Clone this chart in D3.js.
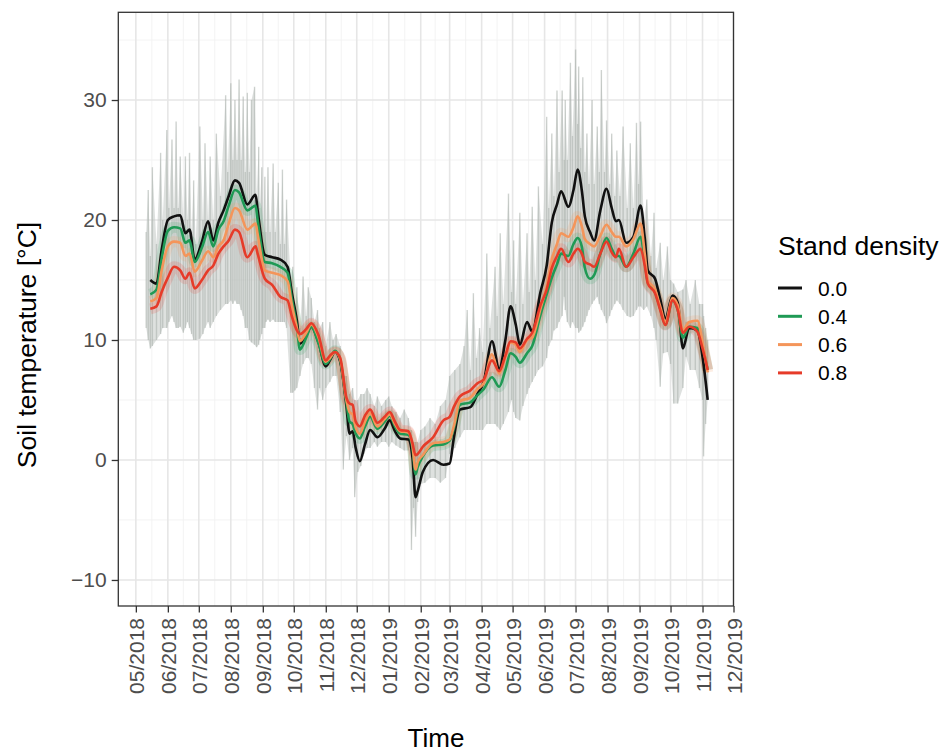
<!DOCTYPE html>
<html><head><meta charset="utf-8">
<script src="https://cdn.jsdelivr.net/npm/d3@7"></script>
<style>body{margin:0;background:#fff;} svg{display:block;font-family:"Liberation Sans",Arial,sans-serif;}</style>
</head><body><svg id="chart" width="941" height="756"></svg>
<script>
// ---- data ----
const seriesNames = ["0.0", "0.4", "0.6", "0.8"];
const seriesColors = ["#111111", "#1f9a55", "#f4955a", "#e63b29"];
const dates = ["2018-05-15","2018-05-21","2018-05-26","2018-06-01","2018-06-07","2018-06-13","2018-06-18","2018-06-22","2018-06-27","2018-07-04","2018-07-10","2018-07-15","2018-07-20","2018-07-25","2018-07-30","2018-08-05","2018-08-09","2018-08-17","2018-08-25","2018-08-27","2018-09-03","2018-09-10","2018-09-18","2018-09-25","2018-09-29","2018-10-04","2018-10-07","2018-10-13","2018-10-18","2018-10-25","2018-11-01","2018-11-05","2018-11-10","2018-11-15","2018-11-21","2018-11-24","2018-11-27","2018-11-30","2018-12-04","2018-12-09","2018-12-14","2018-12-21","2018-12-28","2019-01-02","2019-01-07","2019-01-12","2019-01-20","2019-01-24","2019-01-27","2019-01-29","2019-02-03","2019-02-13","2019-02-23","2019-03-01","2019-03-05","2019-03-11","2019-03-21","2019-03-28","2019-04-03","2019-04-11","2019-04-18","2019-04-24","2019-04-29","2019-05-04","2019-05-08","2019-05-15","2019-05-20","2019-05-28","2019-06-03","2019-06-08","2019-06-13","2019-06-17","2019-06-24","2019-06-29","2019-07-03","2019-07-07","2019-07-10","2019-07-15","2019-07-19","2019-07-25","2019-07-31","2019-08-05","2019-08-09","2019-08-12","2019-08-19","2019-08-26","2019-09-02","2019-09-06","2019-09-09","2019-09-16","2019-09-21","2019-09-26","2019-10-03","2019-10-08","2019-10-13","2019-10-19","2019-10-27","2019-11-01","2019-11-06"];
const density00 = [15.0,14.7,17.5,20.0,20.3,20.4,18.9,19.2,16.7,18.2,19.9,18.3,19.8,20.8,22.0,23.3,23.1,21.3,22.1,20.8,17.1,16.9,16.7,16.1,14.0,11.6,9.7,10.4,11.1,9.8,7.8,8.3,9.0,8.2,4.5,2.2,2.4,1.0,-0.1,1.3,2.5,1.9,2.6,3.3,2.4,1.8,1.7,0.2,-3.1,-2.6,-1.0,0.0,-0.4,-0.3,1.8,4.2,4.4,5.5,6.5,9.9,7.6,10.0,12.8,11.3,9.6,11.5,10.7,14.0,16.2,19.8,21.3,22.4,21.1,22.5,24.2,22.5,20.3,19.0,18.3,20.8,22.6,21.0,19.9,20.0,18.1,18.6,21.2,18.5,15.8,15.1,13.4,11.8,13.7,13.1,9.3,11.0,10.8,8.6,5.0];
const density04 = [13.8,14.2,16.8,19.1,19.4,19.3,18.1,18.3,16.5,17.7,19.0,17.8,19.2,19.9,21.2,22.5,22.3,20.8,21.2,20.0,16.5,16.4,16.1,15.6,13.5,11.1,9.2,10.2,11.1,9.7,8.0,8.4,9.1,8.3,4.8,3.2,3.0,2.2,1.8,2.8,3.6,2.6,3.2,3.7,2.8,2.2,2.1,1.0,-1.2,-0.6,0.3,1.2,1.3,1.6,2.6,4.6,4.8,5.4,5.9,6.9,6.1,7.5,8.9,8.6,8.1,8.9,9.5,12.1,13.8,15.2,16.3,17.2,17.0,18.0,18.5,17.8,16.0,15.1,15.4,17.2,18.5,17.6,17.0,17.0,16.1,17.2,18.6,16.5,14.8,14.0,12.6,11.3,13.3,12.5,10.2,11.1,11.0,9.5,7.5];
const density06 = [13.2,13.5,15.8,17.8,18.2,18.1,17.0,17.2,15.7,16.6,17.4,16.9,17.8,18.3,19.7,21.0,20.8,19.2,19.7,18.8,15.8,15.6,15.4,14.9,13.0,11.0,9.9,10.6,11.3,10.2,8.2,8.5,9.0,8.4,5.0,4.0,3.8,2.7,2.2,3.2,3.9,2.8,3.4,3.8,3.0,2.4,2.3,1.2,-0.8,-0.2,0.4,1.4,1.5,1.7,2.8,4.9,5.2,5.9,6.4,8.8,7.2,8.6,9.8,9.6,9.0,10.0,10.2,12.6,14.5,16.7,18.0,18.9,18.6,19.4,20.3,19.5,18.4,18.0,17.8,18.7,19.6,19.0,18.6,18.6,17.8,18.4,19.7,17.2,15.0,14.2,12.8,11.5,13.5,12.9,10.8,11.5,11.6,9.8,7.3];
const density08 = [12.6,12.8,14.0,15.2,16.1,15.8,15.1,15.6,14.3,15.0,15.8,16.2,17.2,17.8,18.3,19.2,19.0,16.9,17.8,17.2,15.1,14.6,13.6,13.3,12.0,10.8,10.5,10.9,11.4,10.4,8.3,8.7,9.0,8.5,5.2,4.7,4.6,3.2,2.8,3.7,4.2,3.1,3.6,4.0,3.2,2.5,2.4,1.4,0.4,0.5,1.1,1.9,3.3,3.6,4.4,5.3,5.8,6.4,6.7,8.3,7.4,8.7,9.9,9.8,9.3,10.1,10.6,12.9,14.2,16.0,17.0,17.6,16.5,17.2,17.6,17.2,16.5,16.3,16.1,17.2,18.2,17.3,16.9,17.6,16.1,16.9,17.6,16.2,14.7,13.9,12.5,11.25,13.3,12.5,10.6,11.1,10.7,9.3,7.5];
// envelope of the raw (hourly) readings behind the smoothed lines
const rawDates = ["2018-05-11","2018-05-13","2018-05-15","2018-05-17","2018-05-21","2018-05-25","2018-05-27","2018-05-31","2018-06-02","2018-06-05","2018-06-07","2018-06-09","2018-06-11","2018-06-13","2018-06-16","2018-06-18","2018-06-20","2018-06-22","2018-06-24","2018-06-26","2018-06-28","2018-07-02","2018-07-05","2018-07-07","2018-07-10","2018-07-12","2018-07-15","2018-07-18","2018-07-22","2018-07-27","2018-07-29","2018-08-01","2018-08-03","2018-08-05","2018-08-07","2018-08-09","2018-08-11","2018-08-13","2018-08-15","2018-08-17","2018-08-19","2018-08-21","2018-08-24","2018-08-26","2018-08-28","2018-08-29","2018-08-31","2018-09-01","2018-09-03","2018-09-04","2018-09-06","2018-09-08","2018-09-11","2018-09-13","2018-09-16","2018-09-18","2018-09-20","2018-09-22","2018-09-24","2018-09-28","2018-09-30","2018-10-02","2018-10-04","2018-10-07","2018-10-10","2018-10-13","2018-10-15","2018-10-18","2018-10-21","2018-10-24","2018-10-26","2018-10-29","2018-11-01","2018-11-05","2018-11-08","2018-11-11","2018-11-15","2018-11-18","2018-11-21","2018-11-24","2018-11-27","2018-11-29","2018-12-02","2018-12-05","2018-12-08","2018-12-11","2018-12-14","2018-12-18","2018-12-21","2018-12-25","2018-12-29","2019-01-01","2019-01-04","2019-01-08","2019-01-12","2019-01-16","2019-01-20","2019-01-23","2019-01-25","2019-01-27","2019-01-29","2019-02-01","2019-02-05","2019-02-10","2019-02-15","2019-02-20","2019-02-25","2019-03-01","2019-03-06","2019-03-11","2019-03-15","2019-03-18","2019-03-21","2019-03-24","2019-03-27","2019-03-30","2019-04-02","2019-04-06","2019-04-09","2019-04-14","2019-04-16","2019-04-19","2019-04-22","2019-04-27","2019-04-30","2019-05-02","2019-05-04","2019-05-08","2019-05-11","2019-05-15","2019-05-17","2019-05-20","2019-05-23","2019-05-26","2019-05-30","2019-06-03","2019-06-05","2019-06-08","2019-06-10","2019-06-13","2019-06-15","2019-06-18","2019-06-20","2019-06-21","2019-06-23","2019-06-26","2019-06-28","2019-07-01","2019-07-03","2019-07-04","2019-07-06","2019-07-08","2019-07-10","2019-07-12","2019-07-14","2019-07-17","2019-07-19","2019-07-22","2019-07-24","2019-07-26","2019-07-29","2019-07-31","2019-08-03","2019-08-05","2019-08-08","2019-08-10","2019-08-13","2019-08-16","2019-08-20","2019-08-23","2019-08-26","2019-08-29","2019-08-31","2019-09-02","2019-09-05","2019-09-08","2019-09-12","2019-09-15","2019-09-17","2019-09-21","2019-09-24","2019-09-28","2019-10-01","2019-10-04","2019-10-08","2019-10-13","2019-10-16","2019-10-20","2019-10-25","2019-10-29","2019-11-01","2019-11-02","2019-11-04","2019-11-06"];
const rawHigh = [19,22.5,17,24.4,18,25.6,20,27.5,21,26.7,21,28.2,21,25.3,20,25.3,20,25.6,19,23.3,18,27.8,20,26.4,20,25.3,20,27.2,22,30.4,24,31.4,25,30,25,31.7,25,30.3,24,30.6,24,30,31.1,22,26.1,21,24.4,19,23.6,19,24.4,19,24.7,19,23.1,18,24.2,18,21.7,15,16.1,12,14.4,11,15.3,12,14.4,13.5,11.5,12.5,11,11.5,9.5,11.5,10,10.5,9.5,7,7,5.5,6,5,5,5.5,5.5,6,5.5,4.5,5.3,4.5,5,5.3,4.5,4,3.5,4.2,3.5,2.5,1.5,1.5,1.5,2.5,2.8,3.5,3,4.5,5,7,7.5,8,9.5,12.5,7.5,13.9,8.5,11,9,17.2,11,16.1,12,18.9,13,22.2,14,18.3,13,20.6,13,18.9,14,21.1,15,22.8,18,28.6,21,27.2,22,30.8,24,30.8,25,30,25,33.1,27,34.2,28,32.8,26,31.9,24,27.2,23,30,23,27.8,24,32.5,24,28.3,23,27.2,22,25.8,22,27.8,21,26.4,21,28.1,23,28.2,20,21.7,17,20.6,16,18.1,15,17.8,15,14.7,14,14.2,15,13,15,13,13,12,11,10];
const rawLow = [11,10,9.3,9.5,10,10.5,11,11,11.5,12,11.5,11,11,11.1,10.6,11,11.5,11,10.5,10,10,10.1,10.5,11,11.5,11,11.5,12,12.5,13,13,13.3,13,13.3,13,13,12.5,12,11,11,10,9.8,9.6,9.4,9.6,10,10.5,11,11,11.5,11.7,11.5,11.7,11.5,11.5,11.5,11.5,11.5,11,5.6,5.6,5.8,6,7,8,8.5,8.5,8,6,4.2,6,5,6,6.5,7,7,4,-0.8,2,0,1,-3.1,-1,-0.5,0.5,1,1,1.5,1.1,1.5,1.5,1.1,1.5,1.2,1,0.8,0.8,-7.5,-4,-6.4,-3.5,-2,-1.9,-1.5,-1.5,-1.9,-1.5,0.5,1,1.9,2.5,2.5,2.5,2.5,2.5,2.5,2.5,3,3,3,2.8,2.5,3,4,5,4,3.5,3.3,4.5,5.5,6,6.5,7,7.5,7.8,8.5,9.5,10,10.8,11,11.5,12,13.6,12.5,11.5,11,11.5,11,11,10.6,10.8,11.1,11.5,12,12.5,13,13.3,13.6,13,12.5,12,11.4,12,12.5,13,13.3,13,12.5,12,11.9,12,12.5,12.8,12.8,12.5,12.8,12,11,10,6.1,8.9,9,8,4.7,4.7,6,8.6,7.5,7.5,6,5,0.3,3,5];
const yTickValues = [-10, 0, 10, 20, 30];
const monthLabelFormat = "%m/%Y";
const xTitle = "Time", yTitle = "Soil temperature [°C]", legendTitle = "Stand density";

// ---- layout ----
const svg = d3.select("#chart");
const P = {left: 118.3, right: 733.5, top: 12.3, bottom: 606};
const parse = d3.utcParse("%Y-%m-%d");
const x = d3.scaleUtc().domain([parse("2018-04-14"), parse("2019-12-01")]).range([P.left, P.right]);
const y = d3.scaleLinear().domain([-12.17, 37.31]).range([P.bottom, P.top]);

const majorX = d3.utcMonth.range(parse("2018-05-01"), parse("2019-12-02"));
const minorX = majorX.slice(0, -1).map((d, i) => new Date((+d + +majorX[i + 1]) / 2));
const minorY = [-5, 5, 15, 25, 35];

const grid = svg.append("g");
grid.selectAll(".mny").data(minorY).join("line")
  .attr("x1", P.left).attr("x2", P.right).attr("y1", d => y(d)).attr("y2", d => y(d))
  .attr("stroke", "#f2f2f2").attr("stroke-width", 0.9);
grid.selectAll(".mnx").data(minorX).join("line")
  .attr("y1", P.top).attr("y2", P.bottom).attr("x1", d => x(d)).attr("x2", d => x(d))
  .attr("stroke", "#f2f2f2").attr("stroke-width", 0.9);
grid.selectAll(".mjy").data(yTickValues).join("line")
  .attr("x1", P.left).attr("x2", P.right).attr("y1", d => y(d)).attr("y2", d => y(d))
  .attr("stroke", "#e6e6e6").attr("stroke-width", 1.6);
grid.selectAll(".mjx").data(majorX).join("line")
  .attr("y1", P.top).attr("y2", P.bottom).attr("x1", d => x(d)).attr("x2", d => x(d))
  .attr("stroke", "#e6e6e6").attr("stroke-width", 1.6);

// raw envelope: light fill plus streaks
const raw = rawDates.map((d, i) => ({t: parse(d), hi: rawHigh[i], lo: rawLow[i]}));
svg.append("path").datum(raw)
  .attr("d", d3.area().x(d => x(d.t)).y0(d => y(d.lo)).y1(d => y(d.hi)))
  .attr("fill", "#c3c8c4").attr("fill-opacity", 0.55);
svg.append("g").selectAll("line").data(raw).join("line")
  .attr("x1", d => x(d.t)).attr("x2", d => x(d.t))
  .attr("y1", d => y(d.lo)).attr("y2", d => y(d.hi))
  .attr("stroke", "#a9b0ab").attr("stroke-opacity", 0.55).attr("stroke-width", 1.4);

const allSeries = [density00, density04, density06, density08].map((vals, k) => ({
  name: seriesNames[k], color: seriesColors[k],
  pts: dates.map((d, i) => ({t: parse(d), v: vals[i]}))
}));
const line = d3.line().x(d => x(d.t)).y(d => y(d.v)).curve(d3.curveMonotoneX);

// tinted halo of the raw data around each series
svg.append("g").selectAll("path").data(allSeries.slice(1)).join("path")
  .attr("d", s => line(s.pts)).attr("fill", "none")
  .attr("stroke", s => s.color).attr("stroke-opacity", 0.16).attr("stroke-width", 11)
  .attr("stroke-linejoin", "round");

svg.append("g").selectAll("path").data(allSeries).join("path")
  .attr("d", s => line(s.pts)).attr("fill", "none")
  .attr("stroke", s => s.color).attr("stroke-width", 2.6).attr("stroke-linejoin", "round");

// panel border
svg.append("rect").attr("x", P.left).attr("y", P.top)
  .attr("width", P.right - P.left).attr("height", P.bottom - P.top)
  .attr("fill", "none").attr("stroke", "#333").attr("stroke-width", 1.3);

// axes
const yAxis = d3.axisLeft(y).tickValues(yTickValues).tickSize(6.6).tickPadding(5);
const gy = svg.append("g").attr("transform", `translate(${P.left},0)`).call(yAxis);
gy.select(".domain").remove();
gy.selectAll("line").attr("stroke", "#333").attr("stroke-width", 1.3);
gy.selectAll("text").attr("fill", "#4d4d4d").style("font-size", "21px")
  .style("font-family", "Liberation Sans, Arial, sans-serif");

const xAxis = d3.axisBottom(x).tickValues(majorX).tickFormat(d3.utcFormat(monthLabelFormat)).tickSize(6.6).tickPadding(5);
const gx = svg.append("g").attr("transform", `translate(0,${P.bottom})`).call(xAxis);
gx.select(".domain").remove();
gx.selectAll("line").attr("stroke", "#333").attr("stroke-width", 1.3);
gx.selectAll("text").attr("fill", "#4d4d4d").style("font-size", "21px")
  .style("font-family", "Liberation Sans, Arial, sans-serif")
  .attr("transform", "rotate(-90)").attr("text-anchor", "end")
  .attr("x", -12).attr("y", 0).attr("dy", "0.36em");

// titles
svg.append("text").attr("x", 436).attr("y", 747).attr("text-anchor", "middle")
  .style("font-size", "26px").attr("fill", "#000").text(xTitle);
svg.append("text").attr("transform", "translate(36,345) rotate(-90)").attr("text-anchor", "middle")
  .style("font-size", "26.5px").attr("fill", "#000").text(yTitle);

// legend
const lg = svg.append("g");
lg.append("text").attr("x", 778).attr("y", 255).style("font-size", "26.5px").attr("fill", "#000").text(legendTitle);
const items = lg.selectAll(".it").data(allSeries).join("g")
  .attr("transform", (d, i) => `translate(778,${288 + i * 28.3})`);
items.append("line").attr("x1", 0).attr("x2", 24).attr("stroke", d => d.color).attr("stroke-width", 3);
items.append("text").attr("x", 40).attr("dy", "0.36em").style("font-size", "21px").attr("fill", "#000").text(d => d.name);
</script></body></html>
